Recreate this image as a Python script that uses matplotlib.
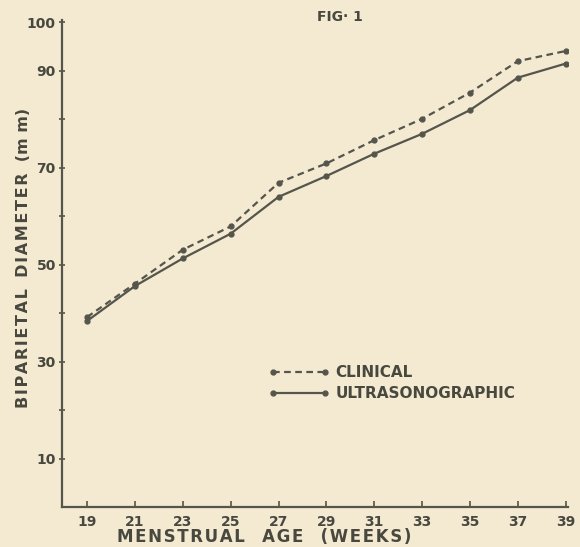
import matplotlib.pyplot as plt
import numpy as np

# menstrual age (weeks) and mean BPD (mm)
weeks = [19, 21, 23, 25, 27, 29, 31, 33, 35, 37, 39]
clinical = [39.2, 46.1, 53.1, 57.9, 66.9, 70.9, 75.7, 80.1, 85.5, 92.0, 94.1]
ultrasonographic = [38.4, 45.6, 51.3, 56.4, 64.0, 68.3, 72.9, 77.0, 81.9, 88.6, 91.5]

y_labeled = [10, 30, 50, 70, 90, 100]
y_minor = [20, 40, 60, 80]

paper = '#f4ead2'
ink = '#55554b'
txt = '#48483f'


def spaced(s, gap='   '):
    # hand-lettered labels are widely spaced; hair spaces between letters
    return gap.join('\u200a'.join(w) for w in s.split(' '))


plt.rcParams.update({
    'font.family': 'DejaVu Sans',
    'font.weight': 'bold',
})

fig = plt.figure(figsize=(5.8, 5.47), dpi=100, facecolor=paper)
ax = fig.add_axes([62 / 580, 40 / 547, 506 / 580, 487 / 547])
ax.set_facecolor(paper)

ax.plot(weeks, clinical, color=ink, lw=1.6, ls=(0, (3, 2)),
        marker='o', ms=3.5, label='CLINICAL')
ax.plot(weeks, ultrasonographic, color=ink, lw=1.6, ls='-',
        marker='o', ms=3.5, label='ULTRASONOGRAPHIC')

ax.set_xlim(17.95, 39.1)
ax.set_ylim(0, 100.5)

for side in ['top', 'right']:
    ax.spines[side].set_visible(False)
for side in ['left', 'bottom']:
    ax.spines[side].set_color(ink)
    ax.spines[side].set_linewidth(1.6)

ax.set_xticks(weeks)
ax.set_xticklabels([str(w) for w in weeks])
ax.set_yticks(y_labeled)
ax.set_yticks(y_minor, minor=True)
ax.tick_params(axis='x', direction='in', length=4, width=1.2, color=ink,
               labelsize=10, labelcolor=txt, pad=6)
ax.tick_params(axis='y', which='both', direction='inout', length=5, width=1.2,
               color=ink, labelsize=10, labelcolor=txt, pad=2)

leg = ax.legend(loc='upper left', bbox_to_anchor=(0.38, 0.32), frameon=False,
                numpoints=2, handlelength=4.0, handletextpad=0.4,
                labelspacing=0.4, fontsize=11)
for t in leg.get_texts():
    t.set_color(txt)

fig.text(340 / 580, 1 - 17 / 547, 'FIG\u00b7 1', ha='center', va='center',
         fontsize=10, color=txt)
fig.text(264 / 580, 1 - 537 / 547, spaced('MENSTRUAL AGE (WEEKS)'),
         ha='center', va='center', fontsize=12, color=txt)
fig.text(24 / 580, 1 - 258 / 547,
         spaced('BIPARIETAL DIAMETER', '  ') + '  (m m)',
         ha='center', va='center', rotation=90, fontsize=11.5, color=txt)

fig.savefig('out.png', dpi=100, facecolor=paper)
